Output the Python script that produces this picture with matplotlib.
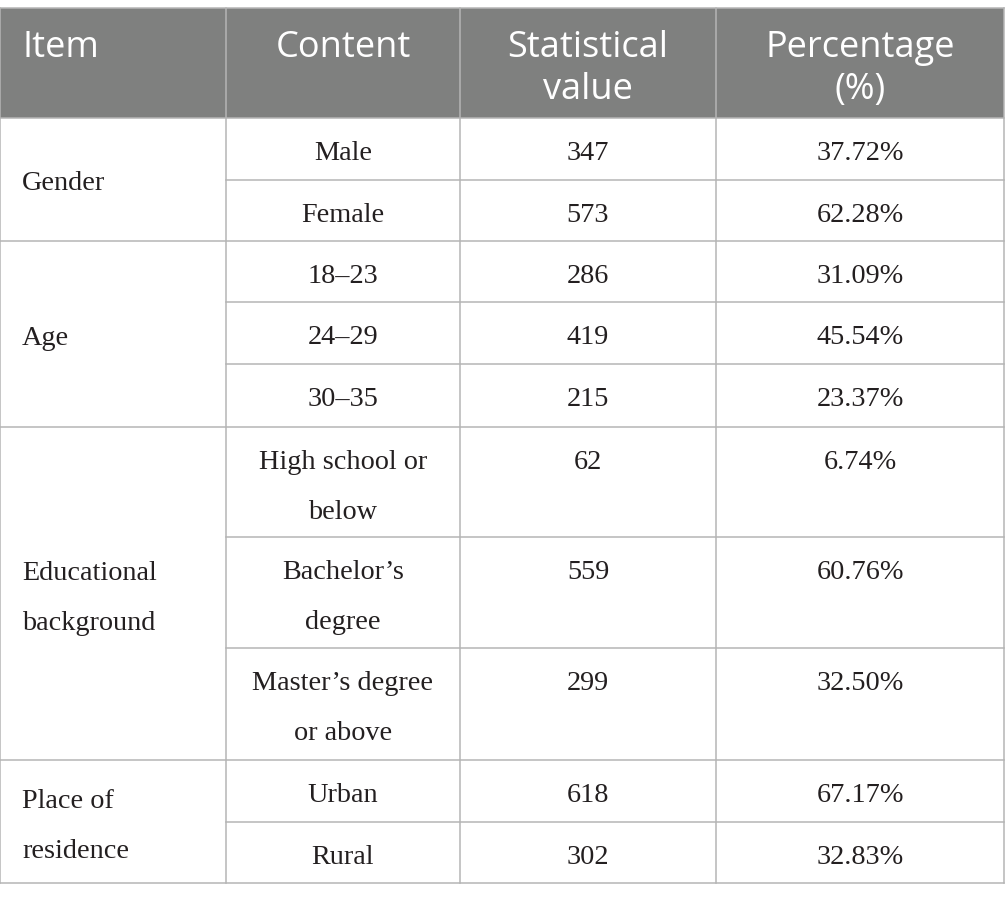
import matplotlib.pyplot as plt

# table content
headers = [["Item"], ["Content"], ["Statistical", "value"], ["Percentage", "(%)"]]
items = [["Gender"], ["Age"], ["Educational", "background"], ["Place of", "residence"]]
item_rows = [2, 3, 3, 2]
contents = [["Male"], ["Female"], ["18\u201323"], ["24\u201329"], ["30\u201335"],
            ["High school or", "below"], ["Bachelor\u2019s", "degree"],
            ["Master\u2019s degree", "or above"], ["Urban"], ["Rural"]]
values = ["347", "573", "286", "419", "215", "62", "559", "299", "618", "302"]
percents = ["37.72%", "62.28%", "31.09%", "45.54%", "23.37%",
            "6.74%", "60.76%", "32.50%", "67.17%", "32.83%"]

# layout in pixels
col_x = [0, 226, 460, 716, 1004]
top = 8
header_bottom = 118
row_edges = [118, 180, 241, 302, 364, 427, 537, 648, 760, 822, 883]

header_color = "#7f807f"
line_color = "#b5b5b5"
text_color = "#231f20"
sans = "Open Sans"
serif = "Liberation Serif"
head_size = 26
body_size = 20.3
line_gap = 50

fig = plt.figure(figsize=(10.05, 9.01), dpi=100)
ax = fig.add_axes([0, 0, 1, 1])
ax.set_xlim(0, 1005)
ax.set_ylim(901, 0)
ax.axis("off")

# header background
ax.fill_between([col_x[0], col_x[-1]], top, header_bottom, color=header_color, lw=0)

# header text
for j, lines in enumerate(headers):
    for k, t in enumerate(lines):
        y = 57 + k * 42
        if j == 0:
            ax.text(col_x[0] + 22, y, t, ha="left", va="baseline", color="white",
                    fontsize=head_size, family=sans)
        else:
            ax.text((col_x[j] + col_x[j + 1]) / 2, y, t, ha="center", va="baseline",
                    color="white", fontsize=head_size, family=sans)

# item column (merged cells)
r = 0
for lines, n in zip(items, item_rows):
    y0, y1 = row_edges[r], row_edges[r + n]
    center = (y0 + y1) / 2
    for k, t in enumerate(lines):
        y = center + 11 + (k - (len(lines) - 1) / 2) * line_gap
        ax.text(col_x[0] + 22, y, t, ha="left", va="baseline", color=text_color,
                fontsize=body_size, family=serif)
    r += n

# content / value / percent columns
for i in range(len(values)):
    y0 = row_edges[i]
    for j, lines in [(1, contents[i]), (2, [values[i]]), (3, [percents[i]])]:
        for k, t in enumerate(lines):
            ax.text((col_x[j] + col_x[j + 1]) / 2, y0 + 42 + k * line_gap, t,
                    ha="center", va="baseline", color=text_color,
                    fontsize=body_size, family=serif)

# grid lines
lw = 1.1
ax.plot([col_x[0], col_x[-1]], [top, top], color=line_color, lw=lw)
ax.plot([col_x[0], col_x[-1]], [header_bottom, header_bottom], color=line_color, lw=lw)
ax.plot([col_x[0], col_x[-1]], [row_edges[-1], row_edges[-1]], color=line_color, lw=lw)
for x in col_x:
    ax.plot([x, x], [top, row_edges[-1]], color=line_color, lw=lw)

# horizontal lines: group boundaries span all columns, inner ones skip item column
group_edges = set()
r = 0
for n in item_rows:
    r += n
    group_edges.add(r)
for i in range(1, len(row_edges) - 1):
    x_start = col_x[0] if i in group_edges else col_x[1]
    ax.plot([x_start, col_x[-1]], [row_edges[i], row_edges[i]], color=line_color, lw=lw)

fig.savefig("out.png", dpi=100, facecolor="white")
